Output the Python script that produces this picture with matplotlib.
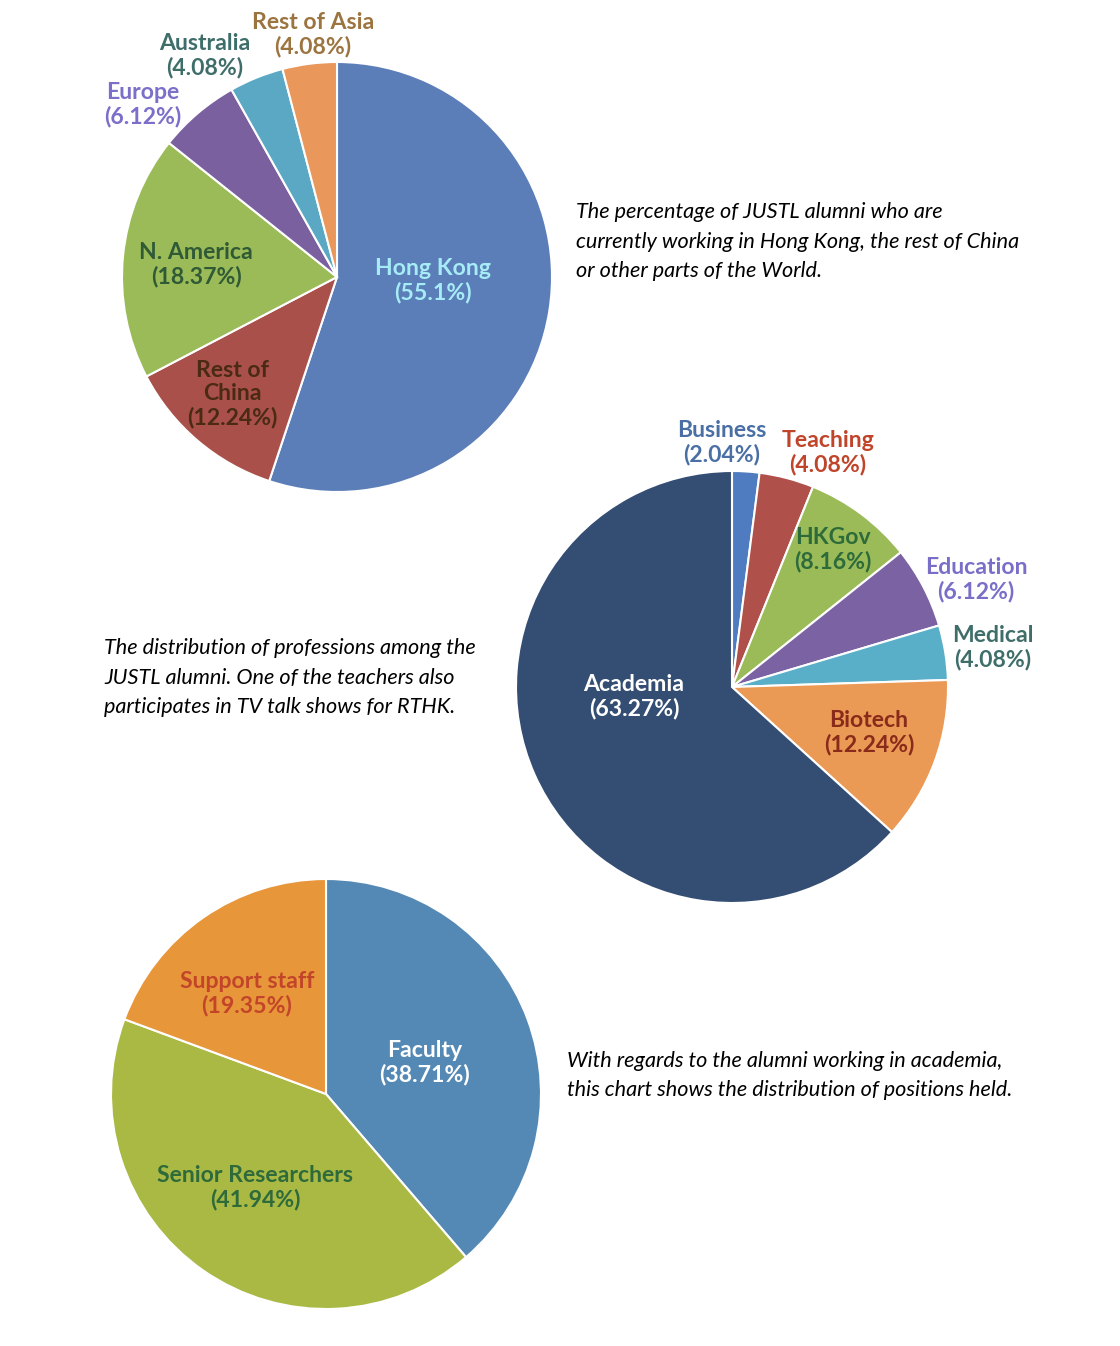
import matplotlib
matplotlib.use('Agg')
import matplotlib.pyplot as plt

W, H = 1120, 1346

# data
region_names = ["Hong Kong", "Rest of\nChina", "N. America", "Europe", "Australia", "Rest of Asia"]
region_pct = [55.1, 12.24, 18.37, 6.12, 4.08, 4.08]

prof_names = ["Business", "Teaching", "HKGov", "Education", "Medical", "Biotech", "Academia"]
prof_pct = [2.04, 4.08, 8.16, 6.12, 4.08, 12.24, 63.27]

acad_names = ["Faculty", "Senior Researchers", "Support staff"]
acad_pct = [38.71, 41.94, 19.35]

# styles
region_colors = ["#5b7db8", "#a9504a", "#9bbb59", "#7b609f", "#5aa8c4", "#e9975a"]
region_text = ["#a6ecf7", "#4a2a12", "#2f5a35", "#7b6fc9", "#3f6e6a", "#9c7440"]
region_xy = [(433, 281), (232, 394), (196, 265), (143, 105), (205, 56), (313, 35)]

prof_colors = ["#4f7bc0", "#b0504a", "#9bbb59", "#7b62a3", "#5aafc8", "#ea9a55", "#344d73"]
prof_text = ["#4a6fa5", "#c0442a", "#2e6b3a", "#7a6fc8", "#3f6e6a", "#8a2a1a", "white"]
prof_xy = [(722, 443), (828, 453), (833, 550), (976, 580), (993, 648), (869, 733), (634, 697)]

acad_colors = ["#5589b5", "#a9b944", "#e8963a"]
acad_text = ["white", "#2f6a3a", "#c2452a"]
acad_xy = [(425, 1063), (255, 1188), (247, 994)]

notes = [
    ((576, 212), ["The percentage of JUSTL alumni who are",
                  "currently working in Hong Kong, the rest of China",
                  "or other parts of the World."]),
    ((104, 648), ["The distribution of professions among the",
                  "JUSTL alumni. One of the teachers also",
                  "participates in TV talk shows for RTHK."]),
    ((567, 1061), ["With regards to the alumni working in academia,",
                   "this chart shows the distribution of positions held."]),
]

fig = plt.figure(figsize=(W / 100, H / 100), dpi=100)
ax = fig.add_axes([0, 0, 1, 1])


def Y(y):
    return H - y


def draw_pie(vals, names, colors, tcolors, xys, center, radius):
    ax.pie(vals, colors=colors, startangle=90, counterclock=False,
           center=(center[0], Y(center[1])), radius=radius,
           wedgeprops=dict(edgecolor='white', linewidth=1.5))
    for v, n, c, (x, y) in zip(vals, names, tcolors, xys):
        ax.text(x, Y(y), f"{n}\n({v}%)", ha='center', va='center', color=c,
                fontsize=16.6, fontweight='bold', family='Lato', linespacing=1.15)


draw_pie(region_pct, region_names, region_colors, region_text, region_xy, (337, 277), 215)
draw_pie(prof_pct, prof_names, prof_colors, prof_text, prof_xy, (732, 687), 216)
draw_pie(acad_pct, acad_names, acad_colors, acad_text, acad_xy, (326, 1094), 215)

ax.set_xlim(0, W)
ax.set_ylim(0, H)
ax.set_aspect('equal')
ax.axis('off')

for (x, y), lines in notes:
    for i, line in enumerate(lines):
        ax.text(x, Y(y + 29.5 * i), line, ha='left', va='center', fontsize=15.6,
                style='italic', family='Lato', color='black')

plt.savefig('out.png', dpi=100)
